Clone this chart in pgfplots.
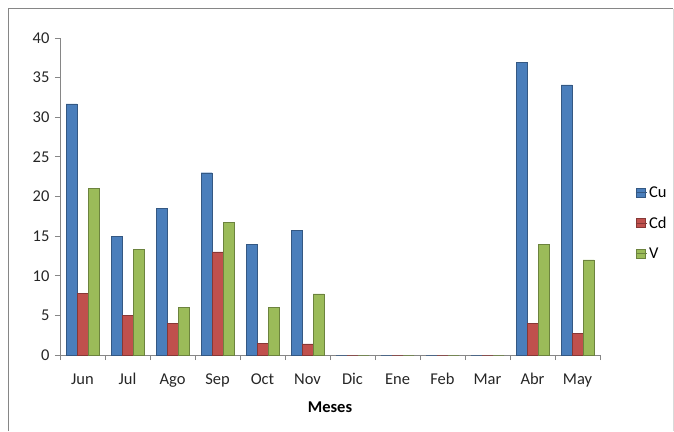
\documentclass[border=0pt]{standalone}
\usepackage{pgfplots}
\pgfplotsset{compat=1.18}
\usepackage{fontspec}
\setmainfont{Carlito}
\definecolor{cuC}{RGB}{74,126,187}
\definecolor{cdC}{RGB}{192,80,77}
\definecolor{vC}{RGB}{155,187,89}
\definecolor{axC}{RGB}{134,134,134}
\begin{document}
\begin{tikzpicture}
\path[use as bounding box] (-60pt,-76pt) rectangle (614pt,355pt);
\draw[axC,line width=1pt] (-51pt,-76pt) -- (-51pt,346pt) -- (613pt,346pt);
\draw[black!15,line width=0.8pt] (613pt,346pt) -- (613pt,-76pt);
\begin{axis}[
  at={(0pt,0pt)}, anchor=south west,
  scale only axis, width=540pt, height=317pt,
  ybar=0pt, bar width=11pt,
  xmin=-0.5, xmax=11.5, ymin=0, ymax=40,
  ytick={0,5,...,40},
  xtick={0,...,11},
  xticklabels={Jun,Jul,Ago,Sep,Oct,Nov,Dic,Ene,Feb,Mar,Abr,May},
  minor xtick={-0.5,0.5,...,11.5},
  major x tick style={draw=none},
  minor x tick style={axC, line width=0.8pt},
  y tick style={axC, line width=0.8pt},
  tick align=outside,
  major tick length=5pt, minor tick length=5pt,
  axis lines*=left,
  axis line style={axC, line width=0.8pt},
  ticklabel style={font=\fontsize{16.5}{19}\selectfont, text=black!85},
  /pgf/number format/assume math mode=true,
  xticklabel style={yshift=-10pt},
  yticklabel style={xshift=-2pt},
  xlabel={\textbf{Meses}},
  xlabel style={font=\fontsize{16.5}{19}\selectfont, yshift=-8pt},
  legend cell align=left,
  legend style={at={(1.06,0.545)}, anchor=north west, draw=none, fill=none,
    font=\fontsize{16.5}{19}\selectfont, row sep=14pt},
  legend image code/.code={\fill[#1] (0pt,-4.5pt) rectangle (9pt,4.5pt); \path (0pt,0pt) -- (11pt,0pt);},
  clip=false,
]
\addplot[fill=cuC, draw=cuC!70!black] coordinates {(0,31.7) (1,15.0) (2,18.5) (3,23.0) (4,14.0) (5,15.7) (6,0) (7,0) (8,0) (9,0) (10,36.9) (11,34.1)};
\addplot[fill=cdC, draw=cdC!70!black] coordinates {(0,7.8) (1,5.0) (2,4.0) (3,13.0) (4,1.5) (5,1.4) (6,0) (7,0) (8,0) (9,0) (10,4.0) (11,2.7)};
\addplot[fill=vC, draw=vC!70!black] coordinates {(0,21.0) (1,13.3) (2,6.0) (3,16.7) (4,6.0) (5,7.7) (6,0) (7,0) (8,0) (9,0) (10,14.0) (11,12.0)};
\legend{Cu,Cd,V}
\end{axis}
\end{tikzpicture}
\end{document}
